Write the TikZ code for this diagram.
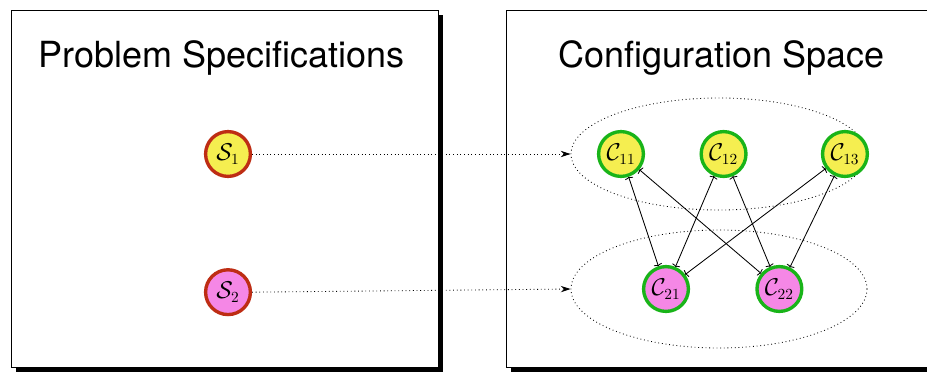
\documentclass[tikz,border=0pt]{standalone}
\usepackage{amsmath}
\usepackage{amssymb}
\usepackage{fontspec}
\setsansfont{TeX Gyre Heros}
\usepackage{tikz}
\usetikzlibrary{positioning,shapes.geometric,shadows,arrows.meta}

\definecolor{specfill}{RGB}{245,238,80}
\definecolor{specline}{RGB}{190,45,20}
\definecolor{conffill}{RGB}{245,135,230}
\definecolor{confline}{RGB}{25,180,25}

\begin{document}
\begin{tikzpicture}[
		panel/.style={draw=black,fill=white,drop shadow={shadow xshift=0.125cm,shadow yshift=-0.125cm,fill=black,opacity=1}},
		spec/.style={circle,draw=specline,line width=2.4pt,minimum size=1.12cm,inner sep=0pt,font=\fontsize{16}{18}\selectfont},
		conf/.style={circle,draw=confline,line width=2.4pt,minimum size=1.12cm,inner sep=0pt,font=\fontsize{16}{18}\selectfont},
		group/.style={ellipse,draw=black,dotted,semithick,minimum width=7.4cm,minimum height=2.8cm},
		title/.style={font=\sffamily\fontsize{25.6}{30}\selectfont}]
		\useasboundingbox (0,0) rectangle (23.175,-9.35);
		
		\draw[panel] (0.275,-0.25) rectangle (10.95,-9.175);
		\draw[panel] (12.65,-0.25) rectangle (24,-9.175);
		
		\node[title] (ps) at (5.54,-1.45) {Problem Specifications};
		\node[title] (cs) at (18.03,-1.45) {Configuration Space};
		
		\node[spec,fill=specfill] (s1) at (5.7,-3.85) {$\mathcal{S}_{1}$};
		\node[spec,fill=conffill,below=2.25cm of s1] (s2) {$\mathcal{S}_{2}$};
		
		\node[group] (g1) at (17.975,-3.85) {};
		\node[group,minimum height=2.95cm] (g2) at (17.975,-7.225) {};
		
		\node[conf,fill=specfill] (c11) at (15.525,-3.85) {$\mathcal{C}_{11}$};
		\node[conf,fill=specfill,right=1.36cm of c11] (c12) {$\mathcal{C}_{12}$};
		\node[conf,fill=specfill,right=1.83cm of c12] (c13) {$\mathcal{C}_{13}$};
		\node[conf,fill=conffill] (c21) at (16.65,-7.225) {$\mathcal{C}_{21}$};
		\node[conf,fill=conffill,right=1.63cm of c21] (c22) {$\mathcal{C}_{22}$};
		
		\draw[-{Stealth[length=7pt,width=4.5pt]},dotted,semithick] (s1.east)--(g1.west);
		\draw[-{Stealth[length=7pt,width=4.5pt]},dotted,semithick] (s2.east)--(g2.west);
		
		\foreach \i in {11,12,13}
		\foreach \j in {21,22}
		\draw[semithick,{To[length=1.5pt,width=6pt]}-{To[length=1.5pt,width=6pt]}] (c\i)--(c\j);
	\end{tikzpicture}
\end{document}
